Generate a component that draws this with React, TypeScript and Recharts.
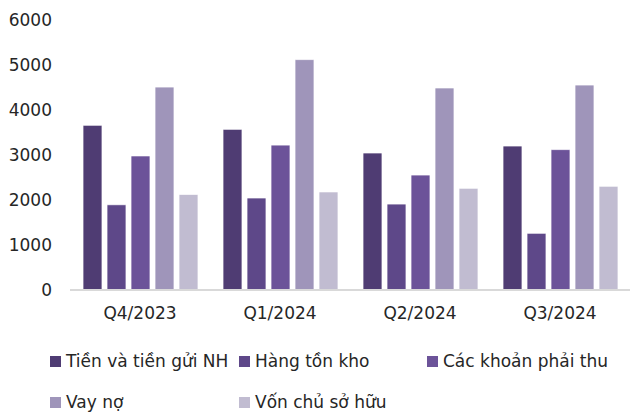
import React from 'react';
import { BarChart, Bar, XAxis, YAxis } from 'recharts';

const quarters = ['Q4/2023', 'Q1/2024', 'Q2/2024', 'Q3/2024'];
const tienGui = [3660, 3570, 3045, 3200];
const hangTonKho = [1895, 2045, 1910, 1260];
const phaiThu = [2980, 3220, 2555, 3120];
const vayNo = [4510, 5120, 4490, 4555];
const vonChu = [2125, 2180, 2260, 2305];
const yTicks = [0, 1000, 2000, 3000, 4000, 5000, 6000];

const SERIES = [
  { key: 'tienGui', name: 'Tiền và tiền gửi NH', color: '#4f3c73', values: tienGui },
  { key: 'hangTonKho', name: 'Hàng tồn kho', color: '#5e4889', values: hangTonKho },
  { key: 'phaiThu', name: 'Các khoản phải thu', color: '#6c5399', values: phaiThu },
  { key: 'vayNo', name: 'Vay nợ', color: '#9f95ba', values: vayNo },
  { key: 'vonChu', name: 'Vốn chủ sở hữu', color: '#c1bcd1', values: vonChu },
];

const data = quarters.map((q, i) => {
  const row: any = { quarter: q };
  SERIES.forEach((s) => {
    row[s.key] = s.values[i];
  });
  return row;
});

const FONT = '"DejaVu Sans", sans-serif';
const TEXT = '#262626';

export default function App() {
  return (
    <div style={{ position: 'absolute', left: 0, top: 0, width: 630, height: 412, background: '#fff', fontFamily: FONT }}>
      <BarChart
        width={630}
        height={340}
        data={data}
        margin={{ top: 20, right: 0, left: 0, bottom: 0 }}
        barCategoryGap={13}
        barGap={5}
      >
        <XAxis
          dataKey="quarter"
          axisLine={{ stroke: '#d9d9d9', strokeWidth: 2 }}
          tickLine={false}
          tickSize={0}
          tickMargin={17}
          height={50}
          tick={{ fill: TEXT, fontSize: 17, fontFamily: FONT }}
        />
        <YAxis
          domain={[0, 6000]}
          ticks={yTicks}
          interval={0}
          axisLine={false}
          tickLine={false}
          tickSize={0}
          tickMargin={18}
          width={70}
          tick={{ fill: TEXT, fontSize: 17, fontFamily: FONT }}
        />
        {SERIES.map((s) => (
          <Bar
            key={s.key}
            dataKey={s.key}
            name={s.name}
            fill={s.color}
            stroke="#ffffff"
            strokeWidth={0.75}
            isAnimationActive={false}
          />
        ))}
      </BarChart>
      <div
        style={{
          position: 'absolute',
          left: 50,
          top: 350,
          display: 'grid',
          gridTemplateColumns: '189px 188px 200px',
          rowGap: 19,
          color: TEXT,
          fontSize: 17,
        }}
      >
        {SERIES.map((s) => (
          <div key={s.key} style={{ display: 'flex', alignItems: 'center', height: 22, whiteSpace: 'nowrap' }}>
            <span style={{ width: 11, height: 11, background: s.color, marginRight: 5, display: 'inline-block', flexShrink: 0 }} />
            <span>{s.name}</span>
          </div>
        ))}
      </div>
    </div>
  );
}
